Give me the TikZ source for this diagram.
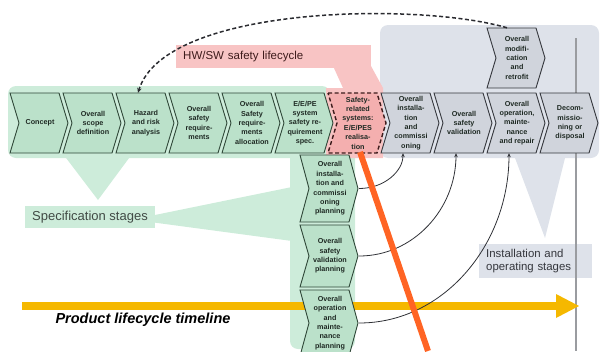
\documentclass[tikz,border=0pt]{standalone}
\usepackage{fontspec}
\setmainfont{Liberation Sans}
\usetikzlibrary{arrows.meta,calc}

\definecolor{bandgreen}{HTML}{CDECDA}
\definecolor{chevgreen}{HTML}{BBE1CA}
\definecolor{edgegreen}{HTML}{2E4637}
\definecolor{bandgrey}{HTML}{DEE2EA}
\definecolor{chevgrey}{HTML}{D0D4DC}
\definecolor{edgegrey}{HTML}{34363C}
\definecolor{softpink}{HTML}{F8C4C4}
\definecolor{chevpink}{HTML}{F4AFAF}
\definecolor{edgered}{HTML}{3E1C1C}
\definecolor{timeyellow}{HTML}{F5B800}
\definecolor{markorange}{HTML}{FF6424}
\definecolor{inkdark}{HTML}{1F2A24}
\definecolor{linegrey}{HTML}{9A9CA0}

\tikzset{
  chevfill/.style={fill=chevgreen, draw=edgegreen, line width=0.9pt, line join=miter},
  greychev/.style={fill=chevgrey, draw=edgegrey},
  pinkchev/.style={fill=chevpink, draw=edgered, dash pattern=on 4pt off 2.5pt, line width=1.4pt},
  chevtext/.style={inner sep=0pt, align=center, text=inkdark,
    font=\fontsize{7.2}{9.4}\selectfont\bfseries},
  link/.style={draw=edgegrey!90!black, line width=0.8pt, -{Stealth[length=4pt,width=3.5pt]}},
  looplink/.style={draw=edgegrey!80!black, line width=1.5pt, dash pattern=on 4pt off 2.5pt,
    -{Stealth[length=5pt,width=4.5pt]}},
  labelbox/.style={inner xsep=7pt, inner ysep=0pt, align=left, anchor=west},
}

% chevron: [style] {name}{left x}{top y}{height}{text}
\newcommand\chev[6][]{%
  \filldraw[chevfill,#1] (#3,#4) -- ++(49,0) -- ++(9,#5/2) -- ++(-9,#5/2) -- ++(-49,0) -- ++(9,-#5/2) -- cycle;
  \node[chevtext, minimum width=58pt, minimum height=#5pt] (#2) at (#3+30,#4+#5/2) {#6};
}

\begin{document}
\begin{tikzpicture}[x=1pt,y=-1pt]
\useasboundingbox (0,0) rectangle (600,351);
\clip (0,0) rectangle (600,351);

% background bands and callouts
\fill[bandgrey, rounded corners=8pt] (380,25) rectangle (599,158);
\fill[bandgrey] (512,150) -- (567,150) -- (545,238) -- cycle;
\fill[bandgreen, rounded corners=8pt] (8,86) rectangle (330,158);
\fill[bandgreen, rounded corners=8pt] (290,148) rectangle (355,349);
\fill[bandgreen] (60,150) -- (135,150) -- (98,200) -- cycle;
\fill[bandgreen] (150,216) -- (292,187) -- (292,241) -- (150,222) -- cycle;
\fill[softpink] (333,66) -- (371,66) -- (383,88) -- (383,158) -- (326,158) -- (326,88) -- (343,88) -- cycle;

\node[labelbox, fill=bandgreen, minimum height=22pt, text=inkdark!85,
  font=\fontsize{13}{15}\selectfont] (spec) at (25,217) {Specification stages};
\node[labelbox, fill=bandgrey, anchor=north west, text width=99pt, minimum height=34pt,
  text=edgegrey, font=\fontsize{11.4}{13.5}\selectfont] (inst) at (479,244)
  {Installation and\\operating stages};
\node[labelbox, fill=softpink, text width=181pt, minimum height=23pt, text=edgered,
  font=\fontsize{11.5}{13}\selectfont] (hwsw) at (176,56.5) {HW/SW safety lifecycle};

% time axis
\draw[linegrey, line width=1.2pt] (576,38) -- (576,351);
\fill[timeyellow] (22,302) rectangle (558,310);
\fill[timeyellow] (556,294) -- (579,306) -- (556,318) -- cycle;
\node[font=\fontsize{14.5}{16}\selectfont\bfseries\itshape, text=black] (timeline) at (143,320)
  {Product lifecycle timeline};

% top row of lifecycle stages
\chev{c1}{10}{93}{60}{Concept}
\chev{c2}{63}{93}{60}{Overall\\scope\\definition}
\chev{c3}{116}{93}{60}{Hazard\\and risk\\analysis}
\chev{c4}{169}{93}{60}{Overall\\safety\\require-\\ments}
\chev{c5}{222}{93}{60}{Overall\\Safety\\require-\\ments\\allocation}
\chev{c6}{275}{93}{60}{E/E/PE\\system\\safety re-\\quirement\\spec.}
\chev[pinkchev]{c7}{328}{93}{60}{Safety-\\related\\systems:\\E/E/PES\\realisa-\\tion}
\chev[greychev]{c8}{381}{93}{60}{Overall\\installa-\\tion\\and\\commissi\\oning}
\chev[greychev]{c9}{434}{93}{60}{Overall\\safety\\validation}
\chev[greychev]{c10}{487}{93}{60}{Overall\\operation,\\mainte-\\nance\\and repair}
\chev[greychev]{c11}{540}{93}{60}{Decom-\\missio-\\ning or\\disposal}
\chev[greychev]{mod}{487}{28}{60}{Overall\\modifi-\\cation\\and\\retrofit}

% planning stages
\chev{p1}{300}{155}{67}{Overall\\installa-\\tion and\\commissi\\oning\\planning}
\chev{p2}{300}{225}{62}{Overall\\safety\\validation\\planning}
\chev{p3}{300}{290}{66}{Overall\\operation\\and\\mainte-\\nance\\planning}

% planning feeds the installation and operating stages
\draw[link] (p1.east) .. controls +(25,0) and +(0,18) .. ([xshift=-8pt]c8.south);
\draw[link] (p2.east) .. controls +(54,0) and +(0,56) .. ([xshift=-8pt]c9.south);
\draw[link] (p3.east) .. controls +(84,0) and +(0,92) .. ([xshift=-8pt]c10.south);

% modification loops back to hazard analysis
\draw[looplink] ([xshift=-10pt]mod.north) .. controls (420,2) and (165,5) .. ([xshift=-8pt]c3.north);

% highlight stroke
\draw[markorange, line width=6pt] (360,152) -- (428,351);
\end{tikzpicture}
\end{document}
